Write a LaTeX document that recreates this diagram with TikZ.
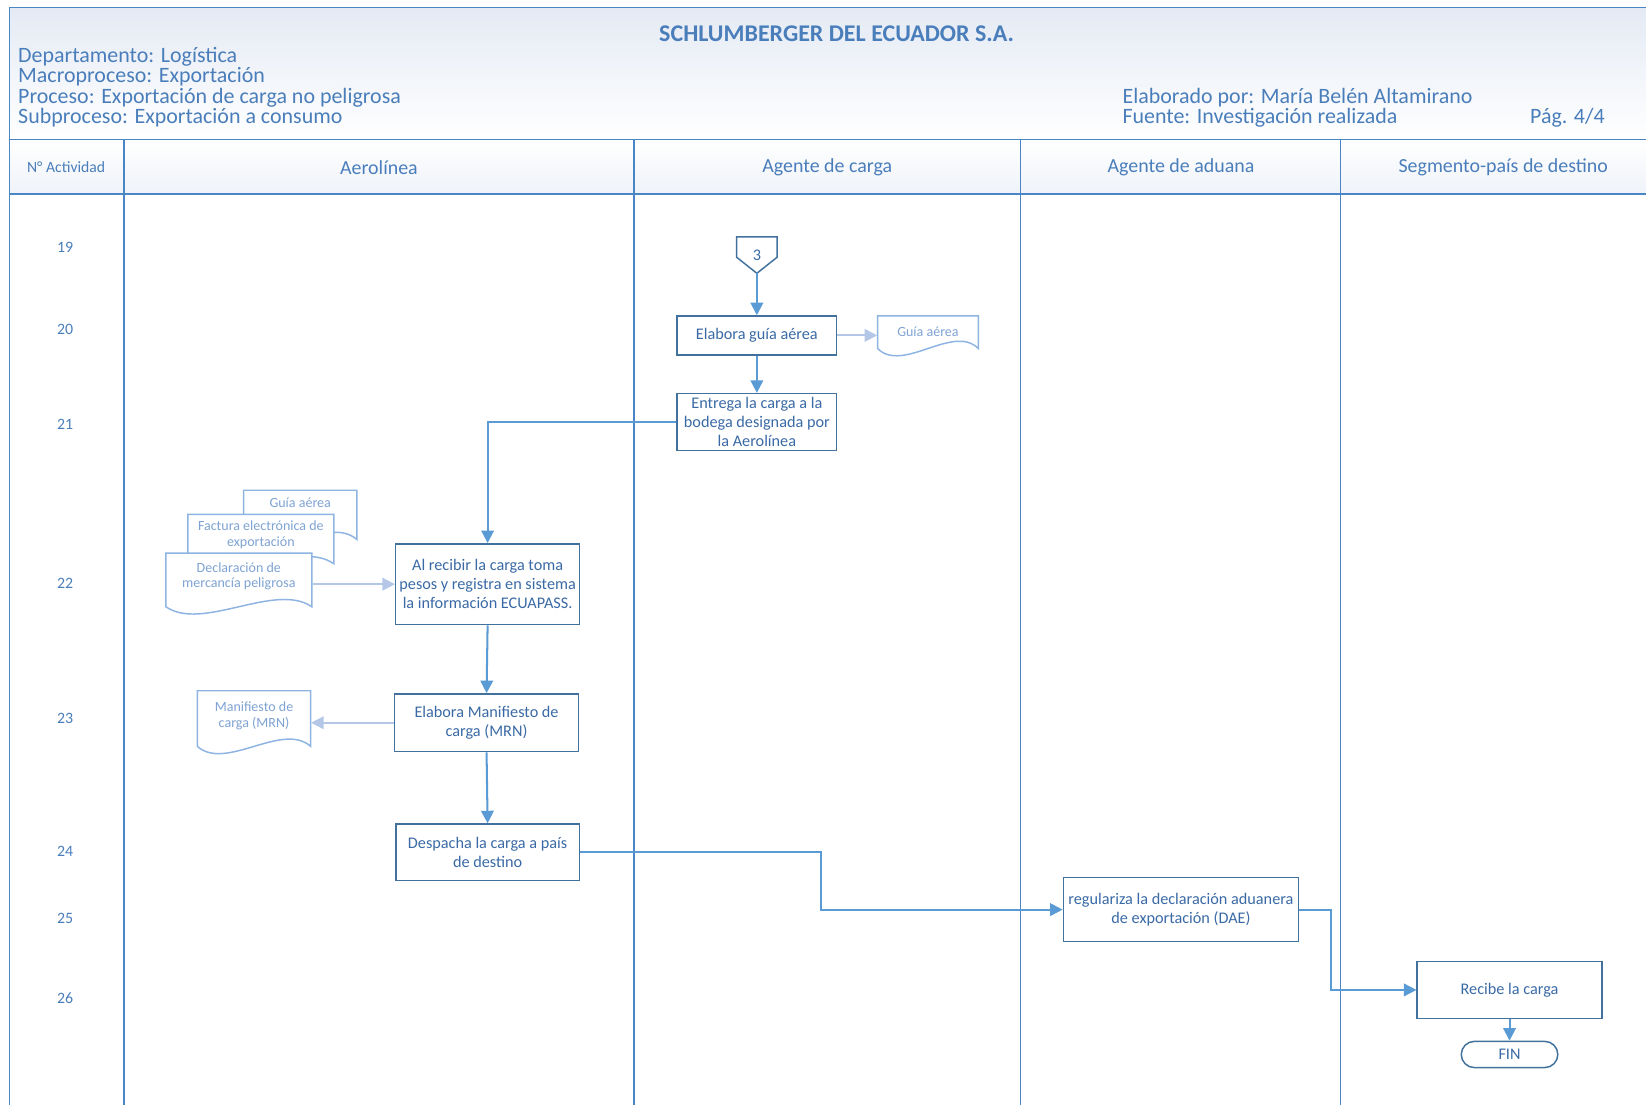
\documentclass[tikz,border=0pt]{standalone}
\usepackage{fontspec}
\setmainfont{Carlito}
\usetikzlibrary{arrows.meta}
\usetikzlibrary{calc}
\definecolor{laneBlue}{HTML}{4A86C5}
\definecolor{headBlue}{HTML}{4A7EBB}
\definecolor{boxBlue}{HTML}{41719C}
\definecolor{boxText}{HTML}{3A6AA5}
\definecolor{arrowBlue}{HTML}{5B9BD5}
\definecolor{lightBlue}{HTML}{B4C7E7}
\definecolor{docBlue}{HTML}{8DB4E2}
\definecolor{docText}{HTML}{7FA3D3}
\definecolor{headTop}{HTML}{E4EAF4}
\newcommand{\docShape}[7]{%%
  %% The outline of a document, with a wavy bottom.
  \filldraw[docLineStyle] (#2,#5) -- (#2,#3) -- (#4,#3) -- (#4,#5)
    .. controls ({#4-(#4-#2)/4},{#5-24}) and ({#2+(#4-#2)/4},{#5+24}) .. (#2,#5) -- cycle;
  %% The text of the document.
  \node[docTextStyle,minimum width={(#4-#2)*0.02cm}] (#1) at ({(#2+#4)/2},#6) {#7};
}
\begin{document}
\begin{tikzpicture}[%%
  x=0.02cm,y=-0.02cm,%%
  laneStyle/.style={draw=laneBlue,line width=0.9pt},%%
  boxStyle/.style={draw=boxBlue,line width=0.8pt,fill=white,text=boxText,align=center,inner sep=2pt,font=\fontsize{8.8}{10.3}\selectfont},%%
  connStyle/.style={draw=boxBlue,line width=0.8pt},%%
  arrowStyle/.style={draw=arrowBlue,line width=1.1pt,-{Triangle[length=6.8pt,width=6.8pt]}},%%
  lightArrowStyle/.style={draw=lightBlue,line width=1pt,-{Triangle[length=6.8pt,width=6.8pt]}},%%
  docLineStyle/.style={draw=docBlue,fill=white,line width=0.8pt},%%
  docTextStyle/.style={text=docText,align=center,inner sep=0pt,font=\fontsize{7.6}{8.6}\selectfont},%%
  headStyle/.style={text=headBlue,align=left,inner sep=0pt,font=\fontsize{11.9}{11}\selectfont},%%
  laneTitleStyle/.style={text=headBlue,font=\fontsize{10.8}{12}\selectfont},%%
  rowStyle/.style={text=headBlue,font=\fontsize{8.6}{10}\selectfont}%%
]
\useasboundingbox (0,0) rectangle (1568,1052);
\clip (0,0) rectangle (1568,1052);
%%
%% The header and the lane titles.
\fill[top color=headTop,bottom color=white] (9,7) rectangle (1600,133);
\fill[top color=white,bottom color=headTop!60] (9,133) rectangle (1600,185);
\draw[laneStyle] (1600,7) -- (9,7) -- (9,1100);
\draw[laneStyle] (9,133) -- (1600,133);
\draw[laneStyle] (9,185) -- (1600,185);
\draw[laneStyle] (118,133) -- (118,1100);
\draw[laneStyle] (604,133) -- (604,1100);
\draw[laneStyle] (972,133) -- (972,1100);
\draw[laneStyle] (1277,133) -- (1277,1100);
\node[text=headBlue,font=\fontsize{13}{14}\selectfont\bfseries] (title) at (797,32) {SCHLUMBERGER DEL ECUADOR S.A.};
\node[headStyle,anchor=west] (headLeft) at (17,83) {Departamento: Logística\\Macroproceso: Exportación\\Proceso: Exportación de carga no peligrosa\\Subproceso: Exportación a consumo};
\node[headStyle,anchor=west] (headRight) at (1069,102.5) {Elaborado por: María Belén Altamirano\\Fuente: Investigación realizada};
\node[headStyle,anchor=east] (page) at (1529,112) {Pág. 4/4};
\node[text=headBlue,font=\fontsize{8.5}{10}\selectfont] (laneNum) at (63,159) {N° Actividad};
\node[laneTitleStyle] (laneAir) at (361,159.5) {Aerolínea};
\node[laneTitleStyle] (laneCargo) at (788,159.5) {Agente de carga};
\node[laneTitleStyle] (laneCustoms) at (1125,159.5) {Agente de aduana};
\node[laneTitleStyle] (laneDest) at (1432,159.5) {Segmento-país de destino};
%%
%% The activity numbers.
\node[rowStyle] (row19) at (62,236) {19};
\node[rowStyle] (row20) at (62,314) {20};
\node[rowStyle] (row21) at (62,404) {21};
\node[rowStyle] (row22) at (62,556) {22};
\node[rowStyle] (row23) at (62,684) {23};
\node[rowStyle] (row24) at (62,811) {24};
\node[rowStyle] (row25) at (62,875) {25};
\node[rowStyle] (row26) at (62,951) {26};
%%
%% The off-page connector.
\node[text=boxText,inner sep=0pt,minimum width=0.76cm,minimum height=0.68cm,font=\fontsize{8.8}{10}\selectfont] (conn) at (721,243) {3};
\draw[connStyle] (conn.north west) -- (conn.north east) -- ($(conn.east)+(0,2)$) -- (conn.south) -- ($(conn.west)+(0,2)$) -- cycle;
%%
%% The activities.
\node[boxStyle,minimum width=3.04cm,minimum height=0.74cm] (guide) at (721,319.5) {Elabora guía aérea};
\node[boxStyle,minimum width=3.04cm,minimum height=1.08cm] (deliver) at (721,402) {Entrega la carga a la\\bodega designada por\\la Aerolínea};
\node[boxStyle,minimum width=3.5cm,minimum height=1.54cm] (receive) at (464.5,556.5) {Al recibir la carga toma\\pesos y registra en sistema\\la información ECUAPASS.};
\node[boxStyle,minimum width=3.5cm,minimum height=1.1cm] (manifest) at (463.5,688.5) {Elabora Manifiesto de\\carga (MRN)};
\node[boxStyle,minimum width=3.5cm,minimum height=1.08cm] (dispatch) at (464.5,812) {Despacha la carga a país\\de destino};
\node[boxStyle,minimum width=4.48cm,minimum height=1.22cm] (settle) at (1125,866.5) {regulariza la declaración aduanera\\de exportación (DAE)};
\node[boxStyle,minimum width=3.52cm,minimum height=1.08cm] (arrive) at (1438,943) {Recibe la carga};
\node[boxStyle,minimum width=1.84cm,minimum height=0.5cm,rounded corners=0.25cm] (fin) at (1438,1004.5) {FIN};
%%
%% The documents.
\docShape{guideDoc}{836}{301}{932}{332}{316}{Guía aérea}
\docShape{airDoc}{232}{467}{340}{514}{479}{Guía aérea}
\docShape{invoiceDoc}{179}{490}{318}{537}{509}{Factura electrónica de\\exportación}
\docShape{declDoc}{158}{527}{297}{578}{549}{Declaración de\\mercancía peligrosa}
\docShape{manifestDoc}{188}{658}{296}{711}{682}{Manifiesto de\\carga (MRN)}
%%
%% The flow.
\draw[arrowStyle] (conn.south) -- (guide.north);
\draw[lightArrowStyle] (guide.east) -- (guideDoc.west |- guide.east);
\draw[arrowStyle] (guide.south) -- (deliver.north);
\draw[arrowStyle] (deliver.west) -| (receive.north);
\draw[lightArrowStyle] (declDoc.east |- receive.west) -- (receive.west);
\draw[arrowStyle] (receive.south) -- (manifest.north);
\draw[lightArrowStyle] (manifest.west) -- (manifestDoc.east |- manifest.west);
\draw[arrowStyle] (manifest.south) -- (dispatch.north);
\draw[arrowStyle] (dispatch.east) -| ($(dispatch.east)!0.5!(settle.west)$) |- (settle.west);
\draw[arrowStyle] (settle.east) -- ++(30,0) |- (arrive.west);
\draw[arrowStyle] (arrive.south) -- (fin.north);
\end{tikzpicture}
\end{document}
